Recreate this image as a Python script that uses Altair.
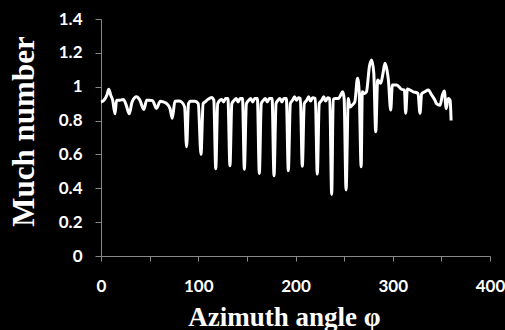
import altair as alt
import pandas as pd

angle = [0, 3, 6, 8, 10, 12, 14.4, 16, 19, 23, 26, 29, 32, 36.6, 40, 44, 47, 50, 53, 57,
         61, 64, 67.5, 71, 73.3, 76, 80, 83, 86, 88, 90, 92, 96.7, 100, 102.8, 105, 107, 110,
         113.8, 116, 118, 120, 124, 126, 128, 130.5, 132.6, 134.5, 137, 139, 141, 143, 145.5,
         147.4, 149.5, 152, 154, 156, 158, 160.8, 162.8, 164.8, 167, 169, 171, 173, 175.9,
         177.9, 180, 182, 184, 186, 188, 190.6, 192.6, 194.7, 197, 199, 201, 203, 205, 207,
         209, 211.5, 213.5, 215.5, 217.5, 220.4, 222.4, 224.4, 227, 229, 231, 233, 235.2,
         237.2, 238.8, 241, 244, 246, 248.5, 250, 252, 254.3, 256, 258, 261, 263.8, 265.5,
         267.5, 268.7, 271, 273, 276, 278.3, 280.5, 282.5, 284.5, 287.6, 290, 292, 294, 295.5,
         297.9, 299.6, 304, 309, 312, 313.3, 315, 321, 326, 328, 329.7, 333, 336.6, 340,
         343.4, 345, 348.6, 351, 353, 355, 357, 359, 360]
much = [0.91, 0.92, 0.95, 0.985, 0.95, 0.92, 0.84, 0.92, 0.92, 0.925, 0.89, 0.84, 0.91, 0.94,
        0.92, 0.866, 0.92, 0.92, 0.918, 0.872, 0.914, 0.91, 0.90, 0.87, 0.813, 0.914, 0.915,
        0.909, 0.88, 0.645, 0.90, 0.914, 0.914, 0.90, 0.60, 0.90, 0.91, 0.925, 0.937, 0.92,
        0.515, 0.90, 0.925, 0.91, 0.93, 0.93, 0.533, 0.90, 0.92, 0.93, 0.91, 0.93, 0.93,
        0.512, 0.90, 0.92, 0.93, 0.91, 0.93, 0.93, 0.488, 0.90, 0.92, 0.93, 0.91, 0.93, 0.93,
        0.474, 0.90, 0.92, 0.93, 0.91, 0.93, 0.93, 0.504, 0.90, 0.92, 0.94, 0.92, 0.935, 0.93,
        0.53, 0.90, 0.92, 0.94, 0.915, 0.935, 0.93, 0.484, 0.90, 0.92, 0.94, 0.915, 0.935,
        0.93, 0.364, 0.925, 0.93, 0.93, 0.945, 0.97, 0.93, 0.39, 0.93, 0.88, 0.89, 0.91, 1.05,
        0.97, 0.527, 0.97, 0.96, 0.97, 1.12, 1.158, 1.08, 0.734, 1.04, 1.02, 1.08, 1.138,
        1.10, 1.04, 0.862, 1.01, 1.01, 0.985, 0.98, 0.843, 0.986, 0.97, 0.96, 0.843, 0.957,
        0.97, 0.98, 0.951, 0.92, 0.90, 0.89, 0.95, 0.975, 0.87, 0.93, 0.92, 0.80]

x_ticks = [0, 50, 100, 150, 200, 250, 300, 350, 400]
y_ticks = [0, 0.2, 0.4, 0.6, 0.8, 1, 1.2, 1.4]

df = pd.DataFrame({"angle": angle, "much": much})

chart = alt.Chart(df).mark_line(
    color="white", strokeWidth=3, interpolate="monotone"
).encode(
    x=alt.X("angle:Q", scale=alt.Scale(domain=[0, 400], nice=False),
            axis=alt.Axis(values=x_ticks, format="d",
                          labelExpr="datum.value % 100 == 0 ? datum.label : ''",
                          title="Azimuth angle φ", titleX=183, titleY=69,
                          titleBaseline="alphabetic", titleAlign="center",
                          titleFont="Liberation Serif", titleFontSize=27,
                          titleFontWeight="bold", titleColor="white",
                          labelFont="Lato", labelFontSize=17, labelFontWeight="bold",
                          labelColor="white", labelPadding=17, tickSize=5,
                          labelFlush=False,
                          domainColor="#888888", tickColor="#888888", grid=False,
                          labelOverlap=False)),
    y=alt.Y("much:Q", scale=alt.Scale(domain=[0, 1.4], nice=False),
            axis=alt.Axis(values=y_ticks, format="~g",
                          title="Much number", titleX=-68, titleY=112, titleAngle=-90,
                          titleBaseline="alphabetic", titleAlign="center",
                          titleFont="Liberation Serif", titleFontSize=31,
                          titleFontWeight="bold", titleColor="white",
                          labelFont="Lato", labelFontSize=17, labelFontWeight="bold",
                          labelColor="white", labelPadding=13, tickSize=6,
                          labelFlush=False,
                          domainColor="#888888", tickColor="#888888", grid=False,
                          labelOverlap=False)),
).properties(
    width=389, height=237,
    autosize=alt.AutoSizeParams(type="none"),
    padding={"left": 101, "top": 19, "right": 15, "bottom": 74},
    background="black",
).configure_view(stroke=None)

chart.save("out.html", embed_options={"renderer": "svg", "actions": False})
